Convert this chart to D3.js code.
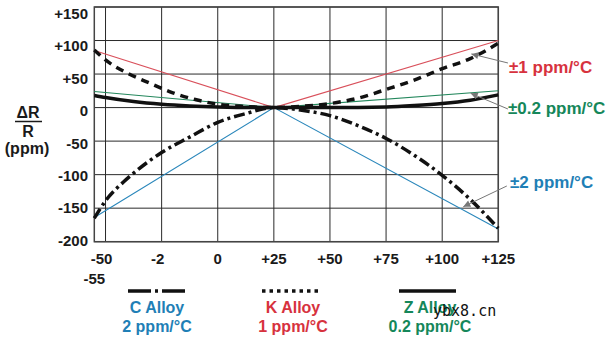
<!DOCTYPE html>
<html><head><meta charset="utf-8">
<script src="https://cdn.jsdelivr.net/npm/d3@7"></script>
<style>
html,body{margin:0;padding:0;background:#fff;}
svg{display:block;font-family:"Liberation Sans",Arial,Helvetica,sans-serif;font-weight:bold;}
</style></head>
<body><svg id="chart" width="612" height="342"></svg>
<script>
// ---- data ----
const tempTicks = [-50, -25, 0, 25, 50, 75, 100, 125];
const tempLabels = ["-50", "-2", "0", "+25", "+50", "+75", "+100", "+125"];
const ppmTicks = [150, 100, 50, 0, -50, -100, -150, -200];
const ppmLabels = ["+150", "+100", "+50", "0", "-50", "-100", "-150", "-200"];

// C Alloy (dash-dot), K Alloy (dashed), Z Alloy (solid) : [temp °C, ΔR/R ppm]
const cAlloy = [[-55,-165],[-50,-139],[-42,-111],[-35,-91],[-25,-67],[-12.5,-44],[0,-22],[12.5,-9],[25,0],[37.5,-4],[50,-12],[62.5,-27],[75,-46],[87.5,-71],[100,-101],[112.5,-137],[125,-180]];
const kAlloy = [[-55,86],[-50,71],[-40,51],[-30,36],[-20,22],[-10,12],[0,5],[12.5,1.5],[25,0],[37.5,2],[50,6],[62.5,14],[75,27],[87.5,41],[100,58],[112.5,73],[125,96]];
const zAlloy = [[-55,18],[-50,15],[-37.5,9],[-25,5],[-12.5,2.5],[0,1],[25,0],[50,0],[75,1],[87.5,3],[100,6],[112.5,11],[125,19]];

// limit lines
const limit1 = [[-55,85],[25,0],[125,100]];     // ±1 ppm/°C
const limit02 = [[-55,24],[25,0],[125,25]];     // ±0.2 ppm/°C
const limit2 = [[-55,-164],[25,0],[125,-181]];  // ±2 ppm/°C

// annotation arrows: [from, to] in data units
const arrows = [
  {from:[129.3,66.5], to:[113,80], color:"#d7323e", text:"±1 ppm/°C", tx:509, ty:73},
  {from:[129.3,-2.1], to:[112.7,21.3], color:"#15875a", text:"±0.2 ppm/°C", tx:508, ty:114},
  {from:[128.8,-116.9], to:[109.4,-147.8], color:"#1f7fb6", text:"±2 ppm/°C", tx:510, ty:188}
];

const legendItems = [
  {name:"C Alloy", sub:"2 ppm/°C", color:"#1f7fb6", dash:"23,4,3,4", x1:128, x2:186, cx:157},
  {name:"K Alloy", sub:"1 ppm/°C", color:"#d7323e", dash:"3.5,4", x1:262, x2:322, cx:293},
  {name:"Z Alloy", sub:"0.2 ppm/°C", color:"#15875a", dash:null, x1:399, x2:456, cx:430}
];

// ---- layout ----
const svg = d3.select("#chart");
const X0 = 94.3, X1 = 498.3, Y0 = 7, Y1 = 241.7;
const x = d3.scaleLinear().domain([-55, 125]).range([X0, X1]);
const y = d3.scaleLinear().domain([-200, 150]).range([Y1, Y0]);
const yLab = d3.scaleLinear().domain([-200, 150]).range([240.5, 13.3]);

// grid
const g = svg.append("g");
g.selectAll("line.v").data(tempTicks).join("line")
  .attr("x1", d => x(d)).attr("x2", d => x(d)).attr("y1", Y0).attr("y2", Y1)
  .attr("stroke", "#2a2a2a").attr("stroke-width", 1);
g.selectAll("line.h").data(ppmTicks).join("line")
  .attr("x1", X0).attr("x2", X1).attr("y1", d => y(d)).attr("y2", d => y(d))
  .attr("stroke", "#2a2a2a").attr("stroke-width", 1);
g.append("rect").attr("x", X0).attr("y", Y0).attr("width", X1 - X0).attr("height", Y1 - Y0)
  .attr("fill", "none").attr("stroke", "#444").attr("stroke-width", 1.5);

// tick labels
svg.append("g").selectAll("text").data(ppmTicks).join("text")
  .attr("x", 88).attr("y", d => yLab(d)).attr("dy", "0.36em")
  .attr("text-anchor", "end").attr("font-size", 15).attr("fill", "#1a1a1a")
  .text((d, i) => ppmLabels[i]);
svg.append("g").selectAll("text").data(tempTicks).join("text")
  .attr("x", d => x(d) + (d < 0 ? -4 : 0)).attr("y", 264)
  .attr("text-anchor", "middle").attr("font-size", 15).attr("fill", "#1a1a1a")
  .text((d, i) => tempLabels[i]);
svg.append("text").attr("x", x(-55)).attr("y", 284).attr("text-anchor", "middle")
  .attr("font-size", 15).attr("fill", "#1a1a1a").text("-55");

// y title
const yt = svg.append("g").attr("fill", "#1a1a1a").attr("font-size", 16);
yt.append("text").attr("x", 28).attr("y", 118).attr("text-anchor", "middle").text("ΔR");
yt.append("line").attr("x1", 15).attr("x2", 42).attr("y1", 121.5).attr("y2", 121.5)
  .attr("stroke", "#1a1a1a").attr("stroke-width", 1.5);
yt.append("text").attr("x", 28).attr("y", 137).attr("text-anchor", "middle").text("R");
yt.append("text").attr("x", 27).attr("y", 154).attr("text-anchor", "middle").text("(ppm)");

// lines
const line = d3.line().x(d => x(d[0])).y(d => y(d[1]));
const curve = d3.line().x(d => x(d[0])).y(d => y(d[1])).curve(d3.curveMonotoneX);
const plot = svg.append("g");
plot.append("path").datum(limit1).attr("d", line).attr("fill", "none").attr("stroke", "#d9505b").attr("stroke-width", 1.1);
plot.append("path").datum(limit02).attr("d", line).attr("fill", "none").attr("stroke", "#23875c").attr("stroke-width", 1.1);
plot.append("path").datum(limit2).attr("d", line).attr("fill", "none").attr("stroke", "#2a87bb").attr("stroke-width", 1.1);
plot.append("path").datum(zAlloy).attr("d", curve).attr("fill", "none").attr("stroke", "#111").attr("stroke-width", 3.5);
plot.append("path").datum(kAlloy).attr("d", curve).attr("fill", "none").attr("stroke", "#111").attr("stroke-width", 3.5).attr("stroke-dasharray", "8,6");
plot.append("path").datum(cAlloy).attr("d", curve).attr("fill", "none").attr("stroke", "#111").attr("stroke-width", 3.5).attr("stroke-dasharray", "11,4,3,4");

// arrows
svg.append("defs").append("marker").attr("id", "ah").attr("viewBox", "0 0 10 10")
  .attr("refX", 10).attr("refY", 5).attr("markerWidth", 8).attr("markerHeight", 7)
  .attr("markerUnits", "userSpaceOnUse").attr("orient", "auto")
  .append("path").attr("d", "M0,0 L10,5 L0,10 Z").attr("fill", "#777");
const ann = svg.append("g");
ann.selectAll("line").data(arrows).join("line")
  .attr("x1", d => x(d.from[0])).attr("y1", d => y(d.from[1]))
  .attr("x2", d => x(d.to[0])).attr("y2", d => y(d.to[1]))
  .attr("stroke", "#777").attr("stroke-width", 1).attr("marker-end", "url(#ah)");
ann.selectAll("text").data(arrows).join("text")
  .attr("x", d => d.tx).attr("y", d => d.ty).attr("font-size", 17)
  .attr("fill", d => d.color).text(d => d.text);

// legend
const lg = svg.append("g");
legendItems.forEach(it => {
  lg.append("line").attr("x1", it.x1).attr("x2", it.x2).attr("y1", 291).attr("y2", 291)
    .attr("stroke", "#111").attr("stroke-width", 3.5)
    .attr("stroke-dasharray", it.dash);
  lg.append("text").attr("x", it.cx).attr("y", 313).attr("text-anchor", "middle")
    .attr("font-size", 16).attr("fill", it.color).text(it.name);
  lg.append("text").attr("x", it.cx).attr("y", 331.5).attr("text-anchor", "middle")
    .attr("font-size", 16).attr("fill", it.color).text(it.sub);
});

// watermark
svg.append("text").attr("x", 433).attr("y", 316)
  .attr("font-family", "'DejaVu Sans Mono', monospace").attr("font-weight", "normal")
  .attr("font-size", 15).attr("fill", "#111").text("ybx8.cn");
</script>
</body></html>
